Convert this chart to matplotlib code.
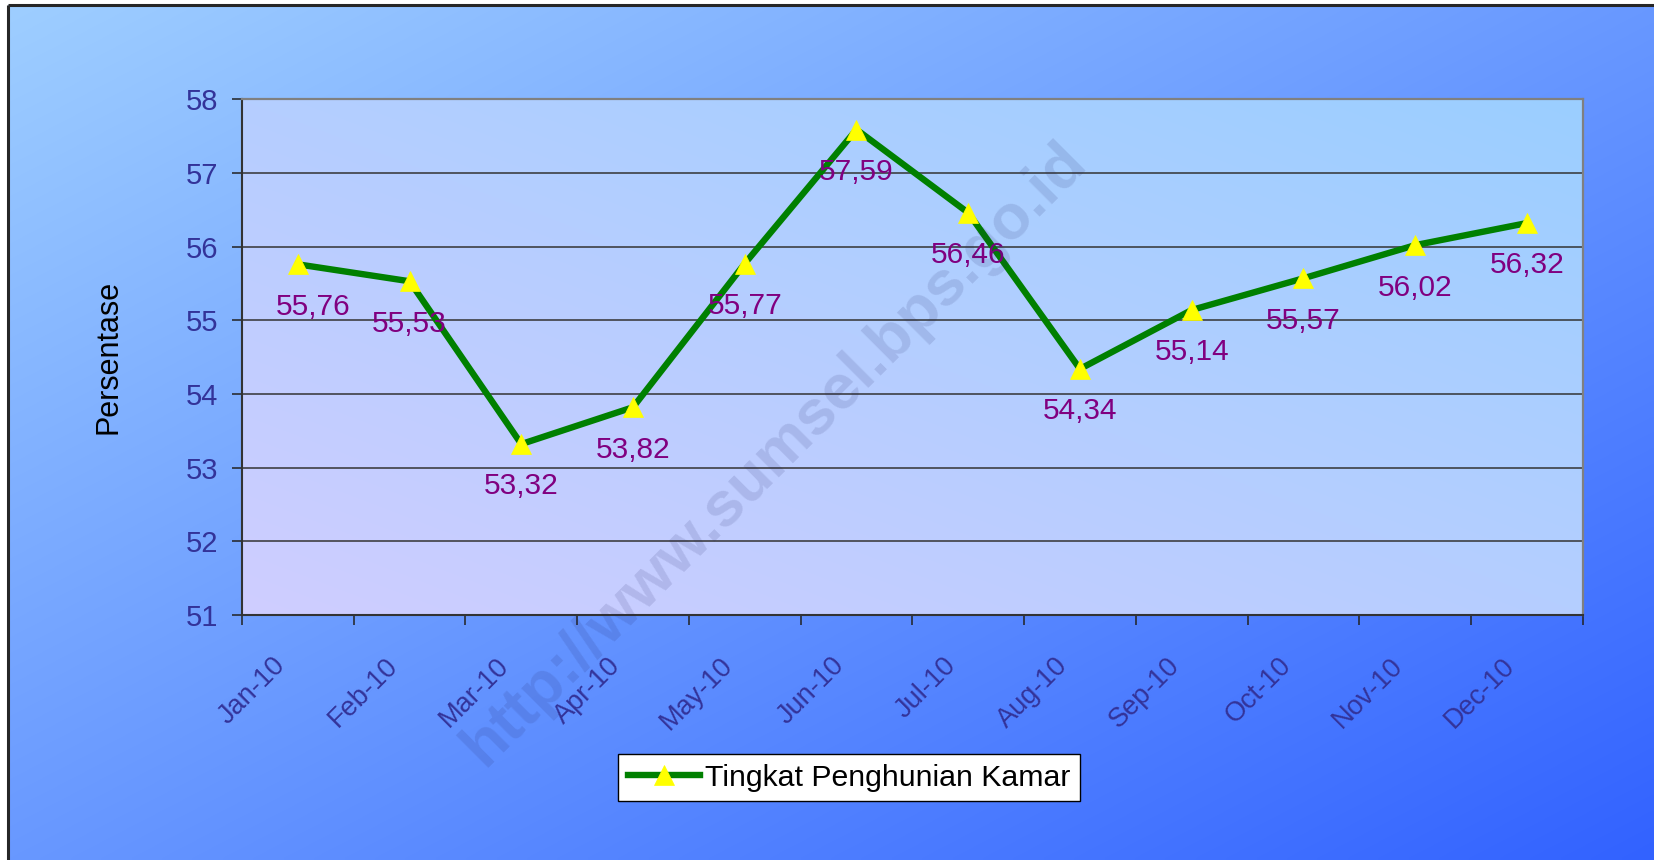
import numpy as np
import matplotlib
matplotlib.use("Agg")
import matplotlib.pyplot as plt
import matplotlib.transforms as mtransforms

plt.rcParams['font.family'] = ['Liberation Sans', 'DejaVu Sans']

# ---- data ----
months = ["Jan-10", "Feb-10", "Mar-10", "Apr-10", "May-10", "Jun-10",
          "Jul-10", "Aug-10", "Sep-10", "Oct-10", "Nov-10", "Dec-10"]
values = [55.76, 55.53, 53.32, 53.82, 55.77, 57.59,
          56.46, 54.34, 55.14, 55.57, 56.02, 56.32]
labels = ["55,76", "55,53", "53,32", "53,82", "55,77", "57,59",
          "56,46", "54,34", "55,14", "55,57", "56,02", "56,32"]
series_name = "Tingkat Penghunian Kamar"
y_ticks = [51, 52, 53, 54, 55, 56, 57, 58]
y_label = "Persentase"
watermark = "http://www.sumsel.bps.go.id"

W, H, DPI = 1654, 860, 100
fig = plt.figure(figsize=(W / DPI, H / DPI), dpi=DPI)
fig.patch.set_facecolor("white")

# ---- figure background gradient ----
bg = fig.add_axes([0, 0, 1, 1], zorder=-5)
gh, gw = 200, 400
yy, xx = np.mgrid[0:gh, 0:gw]
t = (xx / (gw - 1) * 0.5 + yy / (gh - 1) * 0.5)
c0 = np.array([158, 206, 255]) / 255.0
c1 = np.array([50, 98, 255]) / 255.0
grad = c0[None, None, :] * (1 - t[..., None]) + c1[None, None, :] * t[..., None]
bg.imshow(grad, extent=(8, W, H, 5), aspect='auto', interpolation='bilinear')
bg.set_xlim(0, W)
bg.set_ylim(H, 0)
bg.plot([8, W], [5, 5], color="#262626", lw=2.2, solid_capstyle='butt')
bg.plot([8, 8], [5, H], color="#262626", lw=2.2, solid_capstyle='butt')
bg.axis('off')

# ---- main axes ----
left, right, top, bottom = 242, 1582.7, 99.3, 615
ax = fig.add_axes([left / W, 1 - bottom / H, (right - left) / W, (bottom - top) / H])
ax.set_facecolor('none')

ph, pw = 100, 200
yy, xx = np.mgrid[0:ph, 0:pw]
tp = (xx / (pw - 1) * 0.5 + (1 - yy / (ph - 1)) * 0.5)
p0 = np.array([207, 205, 255]) / 255.0
p1 = np.array([155, 207, 255]) / 255.0
pgrad = p0[None, None, :] * (1 - tp[..., None]) + p1[None, None, :] * tp[..., None]
ax.imshow(pgrad, extent=(0, 1, 0, 1), transform=ax.transAxes, aspect='auto',
          interpolation='bilinear', zorder=0)

x = np.arange(len(values)) + 0.5
ax.set_xlim(0, len(values))
ax.set_ylim(y_ticks[0], y_ticks[-1])

# gridlines
for yv in y_ticks[1:-1]:
    ax.axhline(yv, color="#333333", lw=1.1, zorder=1)

ax.plot(x, values, color="#008000", lw=4.6, marker='^', markersize=15,
        markerfacecolor="#FFFF00", markeredgecolor="#FFFF00", markeredgewidth=0.5,
        zorder=3, label=series_name, solid_joinstyle='round')

# data labels
for i, (xv, yv, lab) in enumerate(zip(x, values, labels)):
    dx = 11 if i == 0 else 0
    ax.annotate(lab, (xv, yv), xytext=(dx, -30.5), textcoords='offset points',
                ha='center', va='center', fontsize=21.5, color="#800080", zorder=4)

# spines
ax.spines['top'].set_color("#808080")
ax.spines['right'].set_color("#808080")
ax.spines['top'].set_linewidth(1.6)
ax.spines['right'].set_linewidth(1.6)
ax.spines['left'].set_color("#333333")
ax.spines['bottom'].set_color("#333333")
ax.spines['left'].set_linewidth(1.5)
ax.spines['bottom'].set_linewidth(1.5)
for s in ax.spines.values():
    s.set_zorder(5)

# y ticks
ax.set_yticks(y_ticks)
ax.tick_params(axis='y', direction='out', length=7.2, width=1.1, color="#222222",
               labelsize=21, labelcolor="#333399", pad=10)

# x ticks: major at boundaries, labels at centers
ax.set_xticks(np.arange(0, len(values) + 1))
ax.set_xticklabels([])
ax.set_xticks(x, minor=True)
ax.set_xticklabels(months, minor=True, rotation=45, ha='right', va='top')
ax.tick_params(axis='x', which='major', direction='out', length=7.2, width=1.1, color="#222222")
ax.tick_params(axis='x', which='minor', length=0, labelsize=19.5, labelcolor="#333399", pad=27)
offset = mtransforms.ScaledTranslation(-7 / DPI, 0, fig.dpi_scale_trans)
for lab in ax.get_xticklabels(minor=True):
    lab.set_transform(lab.get_transform() + offset)

# y label
fig.text(109 / W, 1 - 357 / H, y_label, rotation=90, ha='center', va='center',
         fontsize=22, color='black')

# legend
leg = fig.legend(loc='center', bbox_to_anchor=(849 / W, 1 - 777.5 / H),
                 bbox_transform=fig.transFigure, fontsize=21.8, frameon=True,
                 fancybox=False, edgecolor='black', framealpha=1, facecolor='white',
                 handlelength=2.4, handletextpad=0.15, borderpad=0.32, borderaxespad=0)
leg.get_frame().set_linewidth(1.0)

# watermark
fig.text(775 / W, 1 - 454 / H, watermark, rotation=45, ha='center', va='center',
         fontsize=45.5, fontweight='bold', color="#202060", alpha=0.13, zorder=10)

fig.savefig("out.png", dpi=DPI)
